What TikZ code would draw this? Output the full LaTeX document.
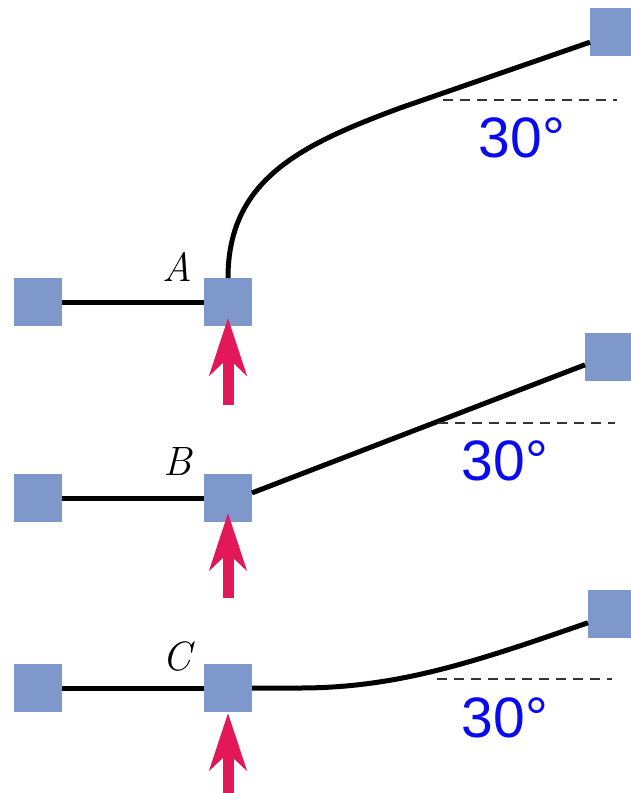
\documentclass[tikz,border=0pt]{standalone}
\usepackage{fontspec}
\newfontfamily\lsans{Liberation Sans}
\usetikzlibrary{arrows.meta}
\definecolor{sq}{RGB}{127,152,204}
\definecolor{force}{RGB}{226,24,88}
\definecolor{angblue}{RGB}{10,10,240}
\begin{document}
\begin{tikzpicture}[x=1pt,y=-1pt,
  sqbox/.style={fill=sq, minimum size=48pt, inner sep=0pt, outer sep=0pt},
  beam/.style={line width=5pt, black},
  refline/.style={line width=1.8pt, dash pattern=on 10pt off 7pt, black!80},
  push/.style={line width=11pt, force, -{Stealth[width=37pt,length=57pt,inset=17pt]}},
  lbl/.style={font=\fontsize{41}{41}\selectfont\itshape, inner sep=0pt},
  ang/.style={font=\lsans\fontsize{57}{57}\selectfont, text=angblue, inner sep=0pt}]
\useasboundingbox (0,0) rectangle (630,793);

% ---------- Panel A ----------
\node[sqbox] (La) at (38,302) {};
\node[sqbox] (A) at (228,302) {};
\node[sqbox] (Ra) at (614,32) {};
\draw[beam] (La.east) -- (A.west);
\draw[beam] (A.north) .. controls (228,180) and (300,145) .. (400,108) -- (Ra.203);
\coordinate (da0) at (443,100);
\coordinate (da1) at (617,100);
\draw[refline] (da0) -- (da1);
\node[ang] (ta) at (522,138) {30°};
\node[lbl] (la) at (177,267) {A};
\coordinate (pa0) at (228,405);
\coordinate (pa1) at (228,318);
\draw[push] (pa0) -- (pa1);

% ---------- Panel B ----------
\node[sqbox] (Lb) at (38,498) {};
\node[sqbox] (B) at (228,498) {};
\node[sqbox] (Rb) at (609,357) {};
\draw[beam] (Lb.east) -- (B.west);
\draw[beam] (B.12) -- (Rb.198);
\coordinate (db0) at (438,423);
\coordinate (db1) at (615,423);
\draw[refline] (db0) -- (db1);
\node[ang] (tb) at (505,461) {30°};
\node[lbl] (lb) at (178,461) {B};
\coordinate (pb0) at (228,598);
\coordinate (pb1) at (228,513);
\draw[push] (pb0) -- (pb1);

% ---------- Panel C ----------
\node[sqbox] (Lc) at (38,688) {};
\node[sqbox] (C) at (228,688) {};
\node[sqbox] (Rc) at (612,614) {};
\draw[beam] (Lc.east) -- (C.west);
\draw[beam] (C.east) -- (300,688) .. controls (400,688) and (480,660) .. (Rc.200);
\coordinate (dc0) at (437,679);
\coordinate (dc1) at (612,679);
\draw[refline] (dc0) -- (dc1);
\node[ang] (tc) at (505,718) {30°};
\node[lbl] (lc) at (177,656) {C};
\coordinate (pc0) at (228,800);
\coordinate (pc1) at (228,713);
\draw[push] (pc0) -- (pc1);
\end{tikzpicture}
\end{document}
